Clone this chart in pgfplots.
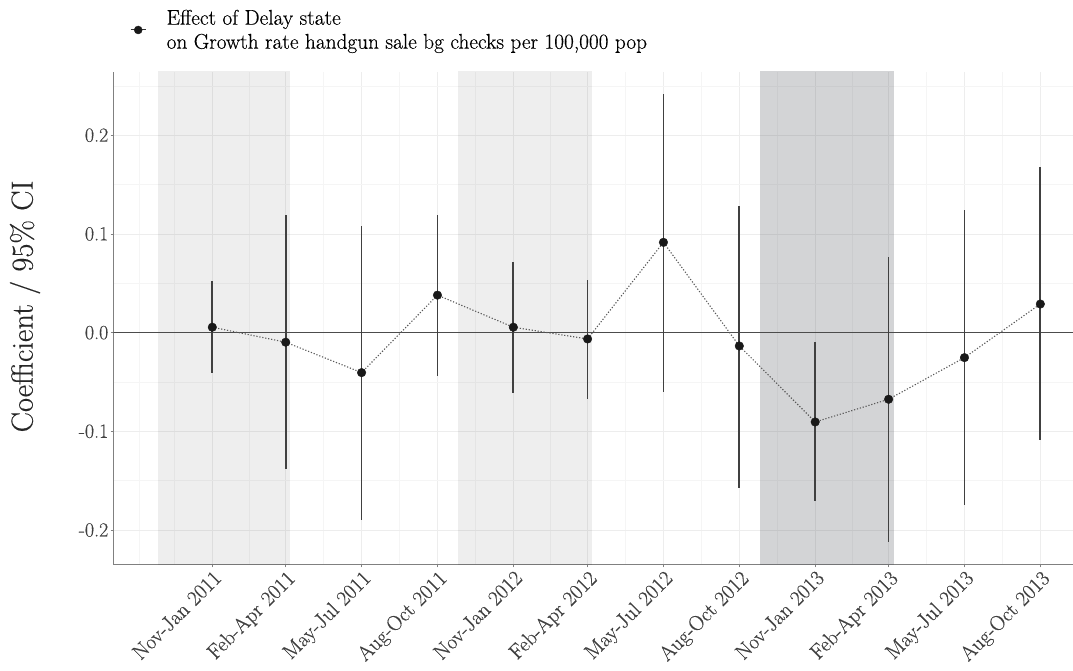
\documentclass[border=0pt]{standalone}
\usepackage{fontspec}
\setmainfont{Latin Modern Roman}[UprightFeatures={FakeBold=0.35}]
\usepackage{pgfplots}
\pgfplotsset{compat=1.18}
\usepackage{pgfplotstable}
\definecolor{shadeB}{HTML}{4F535A}

\pgfplotstableread{
x y lo hi
0 0.0055 -0.041 0.052
89 -0.0097 -0.138 0.119
181 -0.0405 -0.190 0.108
273 0.038 -0.0436 0.119
365 0.0055 -0.0614 0.072
455 -0.0064 -0.067 0.0534
547 0.0915 -0.0604 0.2418
639 -0.0135 -0.157 0.128
731 -0.0905 -0.171 -0.0097
820 -0.0675 -0.2117 0.077
912 -0.0253 -0.175 0.1243
1004 0.029 -0.1087 0.1676
}\coef

\begin{document}
\begin{tikzpicture}
\useasboundingbox (-113.5bp,-106.5bp) rectangle (959.5bp,564.5bp);
\begin{axis}[
  at={(0,0)}, anchor=south west,
  scale only axis, width=959.5bp, height=492.5bp,
  xmin=-119.8, xmax=1043.6, ymin=-0.2349, ymax=0.2641,
  axis x line*=bottom, axis y line*=left,
  axis line style={draw=black!50, line width=0.7bp, -},
  tick align=outside, major tick length=3bp, minor tick length=0bp,
  tick style={black!50, line width=0.7bp},
  grid=both,
  major grid style={black!7, line width=0.8bp},
  minor grid style={black!4, line width=0.6bp},
  xtick={0,89,181,273,365,455,547,639,731,820,912,1004},
  xticklabels={Nov-Jan 2011,Feb-Apr 2011,May-Jul 2011,Aug-Oct 2011,Nov-Jan 2012,Feb-Apr 2012,May-Jul 2012,Aug-Oct 2012,Nov-Jan 2013,Feb-Apr 2013,May-Jul 2013,Aug-Oct 2013},
  minor xtick={-88.9,-45.5,44.5,135,227,319,410,501,593,685,775.5,866,958},
  ytick={-0.2,-0.1,0,0.1,0.2},
  yticklabels={-0.2,-0.1,0.0,0.1,0.2},
  minor ytick={-0.15,-0.05,0.05,0.15,0.25},
  x tick label style={rotate=45, anchor=north east, font=\fontsize{21bp}{22bp}\selectfont, text=black!75, inner sep=1bp},
  y tick label style={font=\fontsize{20bp}{22bp}\selectfont, text=black!75, inner sep=2bp},
  ylabel={Coefficient / 95\% CI},
  ylabel style={font=\fontsize{30.5bp}{32bp}\selectfont, text=black!85, at={(axis description cs:-0.0922,0.524)}, anchor=center},
  legend style={at={(axis description cs:0.0172,1.0853)}, anchor=west, draw=none, fill=none,
    cells={align=left}, font=\fontsize{21.3bp}{24bp}\selectfont, inner sep=0pt},
  legend image code/.code={\path[draw=none] (0bp,0bp) -- (34bp,0bp); \draw[black!80, line width=1bp] (0bp,0bp) -- (15bp,0bp); \fill[black!90] (7.5bp,0bp) circle (4bp);},
]
\addplot[fill=black, fill opacity=0.065, draw=none, forget plot] coordinates {(-66,-1) (94,-1) (94,1) (-66,1)} -- cycle;
\addplot[fill=black, fill opacity=0.065, draw=none, forget plot] coordinates {(298,-1) (460,-1) (460,1) (298,1)} -- cycle;
\addplot[fill=shadeB, fill opacity=0.25, draw=none, forget plot] coordinates {(664,-1) (826,-1) (826,1) (664,1)} -- cycle;
\addplot[black!70, line width=1.3bp, forget plot] coordinates {(-200,0) (1200,0)};
\addplot[draw=none, mark=none, forget plot,
  error bars/.cd, y dir=both, y explicit, error mark=none,
  error bar style={black!75, line width=1.8bp}]
  table[x=x, y=y, y error plus expr=\thisrow{hi}-\thisrow{y}, y error minus expr=\thisrow{y}-\thisrow{lo}] {\coef};
\addplot[black!65, line width=1.1bp, dash pattern=on 1.2bp off 1.8bp, forget plot] table[x=x, y=y] {\coef};
\addplot[only marks, mark=*, mark size=4.3bp, mark options={fill=black!90, draw=black!90}] table[x=x, y=y] {\coef};
\addlegendentry{Effect of Delay state\\on Growth rate handgun sale bg checks per 100,000 pop}
\end{axis}
\end{tikzpicture}
\end{document}
